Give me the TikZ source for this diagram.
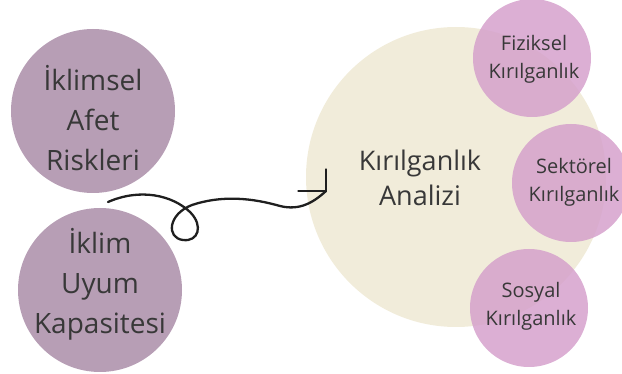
\documentclass[tikz,border=0pt]{standalone}
\usepackage{fontspec}
\setmainfont{Open Sans}
\begin{document}
\begin{tikzpicture}[x=1pt,y=-1pt,
  leftcirc/.style={circle,fill=mauve,minimum size=164pt,inner sep=0pt,
    align=center,font=\fontsize{28}{40}\selectfont,text=txt},
  bigcirc/.style={circle,fill=beige,minimum size=300pt,inner sep=0pt},
  bigtxt/.style={align=center,font=\fontsize{27}{35}\selectfont,text=txt},
  smallcirc/.style={circle,fill=pinkc,fill opacity=0.82,text opacity=1,minimum size=118pt,inner sep=0pt,
    align=center,font=\fontsize{20}{28}\selectfont,text=txt},
  wave/.style={line width=2.3pt,line cap=round,draw=black!88},
  barb/.style={line width=1.3pt,draw=black!88,line cap=round,line join=miter}]
\definecolor{mauve}{HTML}{B79EB5}
\definecolor{beige}{HTML}{F1ECDA}
\definecolor{pinkc}{HTML}{D49ECB}
\definecolor{txt}{HTML}{383838}
\useasboundingbox (0,0) rectangle (622,374);
\node[leftcirc] (afet) at (93,111) {};
\node[leftcirc] (uyum) at (100,290) {};
\node[leftcirc,fill=none] (afettxt) at (93,118) {İklimsel\\Afet\\Riskleri};
\node[leftcirc,fill=none] (uyumtxt) at (100,284) {İklim\\Uyum\\Kapasitesi};
\node[bigcirc] (analiz) at (456,177) {};
\node[smallcirc] (fiz) at (532,58) {};
\node[smallcirc] (sek) at (571,183) {};
\node[smallcirc] (sos) at (529,308) {};
\node[smallcirc,fill=none] (fiztxt) at (534,59) {Fiziksel\\Kırılganlık};
\node[smallcirc,fill=none] (sektxt) at (574,182) {Sektörel\\Kırılganlık};
\node[smallcirc,fill=none] (sostxt) at (531,306) {Sosyal\\Kırılganlık};
\node[bigtxt] (analiztxt) at (420,178) {Kırılganlık\\Analizi};
\coordinate (start) at (108,202);
\coordinate (tip) at (326,191);
\draw[wave] (start) .. controls (140,188) and (172,195) .. (190,212)
  .. controls (204,226) and (198,242) .. (183,240)
  .. controls (166,238) and (168,214) .. (192,205)
  .. controls (222,195) and (252,198) .. (280,206)
  .. controls (300,211) and (314,202) .. (tip);
\draw[barb] ([xshift=-28pt]tip) -- (tip) -- ([yshift=22pt]tip);
\end{tikzpicture}
\end{document}
